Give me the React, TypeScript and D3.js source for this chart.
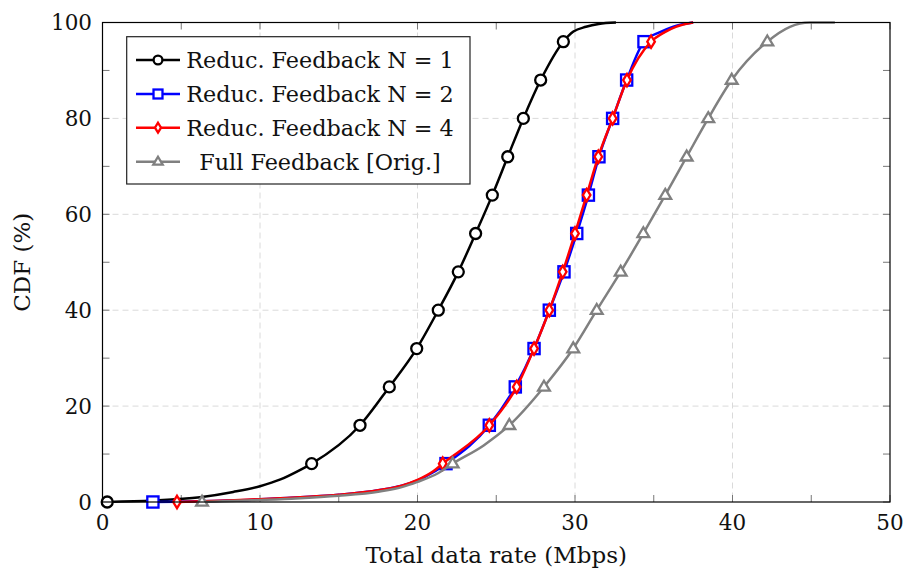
import React from "react";
import * as d3 from "d3";

// ---- Data ----
const markerLevels = [0, 8, 16, 24, 32, 40, 48, 56, 64, 72, 80, 88, 96];

const n1Rate = [0.3, 3.2, 6.2, 8.3, 10.0, 11.3, 12.5, 13.28, 16.35, 18.21, 19.95, 21.32, 22.59, 23.69, 24.75, 25.73, 26.72, 27.82, 29.26, 29.9, 30.7, 31.5, 32.6];
const n1Cdf = [0, 0.3, 1.0, 2.1, 3.3, 4.7, 6.6, 8, 16, 24, 32, 40, 48, 56, 64, 72, 80, 88, 96, 98.1, 99.1, 99.7, 100];

const n2Rate = [3.2, 8.0, 11.3, 15.0, 17.6, 19.0, 20.0, 21.0, 21.81, 24.56, 26.21, 27.4, 28.37, 29.3, 30.11, 30.85, 31.52, 32.39, 33.28, 34.38, 35.4, 36.2, 37.5];
const n2Cdf = [0, 0.3, 0.8, 1.5, 2.5, 3.4, 4.5, 6.2, 8, 16, 24, 32, 40, 48, 56, 64, 72, 80, 88, 96, 98, 99.1, 100];

const n4Rate = [4.73, 8.0, 11.3, 15.0, 17.6, 19.0, 20.0, 21.0, 21.6, 24.56, 26.3, 27.4, 28.37, 29.22, 30.0, 30.74, 31.48, 32.39, 33.3, 34.83, 35.7, 36.4, 37.5];
const n4Cdf = [0, 0.3, 0.8, 1.5, 2.5, 3.4, 4.6, 6.4, 8, 16, 24, 32, 40, 48, 56, 64, 72, 80, 88, 96, 98, 99.1, 100];

const fullRate = [6.32, 9.0, 12.0, 15.0, 17.6, 19.0, 20.0, 21.3, 22.23, 24.2, 25.83, 28.03, 29.89, 31.38, 32.9, 34.34, 35.73, 37.09, 38.46, 39.95, 42.21, 43.65, 44.9, 46.5];
const fullCdf = [0, 0.3, 0.7, 1.3, 2.2, 3.1, 4.2, 6.0, 8, 11.8, 16, 24, 32, 40, 48, 56, 64, 72, 80, 88, 96, 99.1, 100, 100];

const seriesNames = ["Reduc. Feedback N = 1", "Reduc. Feedback N = 2", "Reduc. Feedback N = 4", "Full Feedback [Orig.]"];
const seriesColors = ["#000000", "#0000ff", "#ff0000", "#808080"];
const seriesMarkers = ["circle", "square", "diamond", "triangle"];

const xTicks = [0, 10, 20, 30, 40, 50];
const xMinorTicks = [5, 15, 25, 35, 45];
const yTicks = [0, 20, 40, 60, 80, 100];
const yMinorTicks = [10, 30, 50, 70, 90];

const xLabel = "Total data rate (Mbps)";
const yLabel = "CDF (%)";

// ---- Layout ----
const W = 904;
const H = 572;
const L = 102.5, R = 890, T = 22.5, B = 502;
const FONT = "'DejaVu Serif', serif";

function Marker({ type, x, y, color, s = 1 }: { type: string; x: number; y: number; color: string; s?: number }) {
  const sw = 2.3;
  if (type === "circle") return <circle cx={x} cy={y} r={5.5 * s} fill="#fff" stroke={color} strokeWidth={sw} />;
  if (type === "square") {
    const h = 5.6 * s;
    return <rect x={x - h} y={y - h} width={2 * h} height={2 * h} fill="#fff" stroke={color} strokeWidth={sw} />;
  }
  if (type === "diamond") {
    const w = 3.8 * s, h = 6.2 * s;
    return <path d={`M${x},${y - h}L${x + w},${y}L${x},${y + h}L${x - w},${y}Z`} fill="#fff" stroke={color} strokeWidth={sw} />;
  }
  const a = 6.2 * s;
  return <path d={`M${x},${y - a}L${x + a * 0.95},${y + a * 0.6}L${x - a * 0.95},${y + a * 0.6}Z`} fill="#fff" stroke={color} strokeWidth={sw} />;
}

export default function App() {
  const x = d3.scaleLinear().domain([0, 50]).range([L, R]);
  const y = d3.scaleLinear().domain([0, 100]).range([B, T]);

  const series = [
    { rate: n1Rate, cdf: n1Cdf },
    { rate: n2Rate, cdf: n2Cdf },
    { rate: n4Rate, cdf: n4Cdf },
    { rate: fullRate, cdf: fullCdf },
  ];

  const line = d3
    .line<[number, number]>()
    .x((d) => x(d[0]))
    .y((d) => y(d[1]))
    .curve(d3.curveMonotoneX);

  const tickColor = "#777";
  const tickLen = 7;

  const legX = 126.7, legY = 36.7, legW = 343.3, legH = 147.3;
  const rowY = [60, 94, 127.7, 161.7];

  return (
    <svg width={W} height={H} style={{ position: "absolute", left: 0, top: 0, background: "#fff" }} fontFamily={FONT}>
      <rect x={0} y={0} width={W} height={H} fill="#fff" />
      {/* grid */}
      {xTicks.filter((t) => t > 0 && t < 50).map((t) => (
        <line key={"gx" + t} x1={x(t)} x2={x(t)} y1={T} y2={B} stroke="#dadada" strokeWidth={1} strokeDasharray="6,4" />
      ))}
      {yTicks.filter((t) => t > 0 && t < 100).map((t) => (
        <line key={"gy" + t} x1={L} x2={R} y1={y(t)} y2={y(t)} stroke="#dadada" strokeWidth={1} strokeDasharray="6,4" />
      ))}
      {/* ticks */}
      {[...xTicks, ...xMinorTicks].map((t) => (
        <g key={"tx" + t}>
          <line x1={x(t)} x2={x(t)} y1={B} y2={B - tickLen} stroke={tickColor} strokeWidth={1} />
          <line x1={x(t)} x2={x(t)} y1={T} y2={T + tickLen} stroke={tickColor} strokeWidth={1} />
        </g>
      ))}
      {[...yTicks, ...yMinorTicks].map((t) => (
        <g key={"ty" + t}>
          <line x1={L} x2={L + tickLen} y1={y(t)} y2={y(t)} stroke={tickColor} strokeWidth={1} />
          <line x1={R} x2={R - tickLen} y1={y(t)} y2={y(t)} stroke={tickColor} strokeWidth={1} />
        </g>
      ))}
      {/* series */}
      {series.map((s, i) => {
        const pts: [number, number][] = s.rate.map((r, j) => [r, s.cdf[j]]);
        return (
          <g key={"s" + i}>
            <path d={line(pts) || ""} fill="none" stroke={seriesColors[i]} strokeWidth={2.5} />
            {pts
              .filter((p, j) => markerLevels.includes(p[1]) && s.cdf.indexOf(p[1]) === j)
              .map((p, j) => (
                <Marker key={j} type={seriesMarkers[i]} x={x(p[0])} y={y(p[1])} color={seriesColors[i]} />
              ))}
          </g>
        );
      })}
      {/* axis box */}
      <rect x={L} y={T} width={R - L} height={B - T} fill="none" stroke="#000" strokeWidth={1.2} />
      {/* tick labels */}
      {xTicks.map((t) => (
        <text key={"lx" + t} x={x(t)} y={530} textAnchor="middle" fontSize={21.5} fill="#111">
          {t}
        </text>
      ))}
      {yTicks.map((t) => (
        <text key={"ly" + t} x={92} y={y(t) + 7.8} textAnchor="end" fontSize={21.5} fill="#111">
          {t}
        </text>
      ))}
      {/* axis labels */}
      <text x={(L + R) / 2} y={563} textAnchor="middle" fontSize={23} fill="#111">
        {xLabel}
      </text>
      <text transform={`translate(30,${(T + B) / 2}) rotate(-90)`} textAnchor="middle" fontSize={23} fill="#111">
        {yLabel}
      </text>
      {/* legend */}
      <rect x={legX} y={legY} width={legW} height={legH} fill="#fff" stroke="#222" strokeWidth={1.2} />
      {seriesNames.map((name, i) => (
        <g key={"leg" + i}>
          <line x1={136} x2={180} y1={rowY[i]} y2={rowY[i]} stroke={seriesColors[i]} strokeWidth={2.5} />
          <Marker type={seriesMarkers[i]} x={158} y={rowY[i]} color={seriesColors[i]} s={0.8} />
          <text x={320} y={rowY[i] + 8} textAnchor="middle" fontSize={22.3} fill="#111">
            {name}
          </text>
        </g>
      ))}
    </svg>
  );
}
